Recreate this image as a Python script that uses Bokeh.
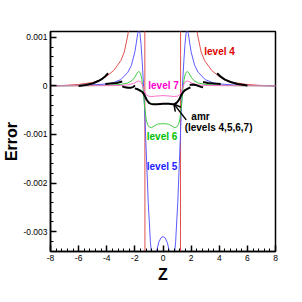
from bokeh.plotting import figure
from bokeh.models import FixedTicker, Label, Arrow, OpenHead, Range1d
from bokeh.embed import file_html
from bokeh.resources import INLINE

# ---------------- data ----------------
z4 = [-8, -7, -6, -5, -4.5, -4, -3.5, -3, -2.75, -2.5, -2.3, -1.3, -1.28,
      1.24, 1.26, 2.26, 2.46, 2.71, 2.96, 3.46, 3.96, 4.46, 4.96, 5.96, 6.96, 8]
e4 = [0.0, 0.00001, 0.00003, 0.00007, 0.00012, 0.0002, 0.00032, 0.00052, 0.0007, 0.00105, 0.0015, 0.006, -0.006,
      -0.006, 0.006, 0.0015, 0.00105, 0.0007, 0.00052, 0.00032, 0.0002, 0.00012, 0.00007, 0.00003, 0.00001, 0.0]

z5 = [-8, -6, -5, -4, -3.5, -3, -2.5, -2.25, -2, -1.9, -1.8, -1.72, -1.64, -1.56, -1.48, -1.4, -1.32, -1.2,
      -1.05, -0.9, -0.75, -0.6, -0.45, -0.3, -0.15, 0, 0.15, 0.3, 0.45, 0.6, 0.75, 0.9, 1.05, 1.2, 1.32, 1.4,
      1.48, 1.56, 1.64, 1.72, 1.8, 1.9, 2, 2.25, 2.5, 3, 3.5, 4, 5, 6, 8]
e5 = [0.0, 0.00001, 0.00002, 0.00004, 0.00007, 0.00013, 0.00028, 0.00042, 0.0007, 0.00088, 0.00108, 0.00116,
      0.00108, 0.00085, 0.0005, 0.0001, -0.0004, -0.0013, -0.0024, -0.0032, -0.0037, -0.0037, -0.0034, -0.00322,
      -0.00313, -0.0031, -0.00313, -0.00322, -0.0034, -0.0037, -0.0037, -0.0032, -0.0024, -0.0013, -0.0004, 0.0001,
      0.0005, 0.00085, 0.00108, 0.00116, 0.00108, 0.00088, 0.0007, 0.00042, 0.00028, 0.00013, 0.00007, 0.00004,
      0.00002, 0.00001, 0.0]

z6 = [-8, -5, -4, -3, -2.5, -2.2, -2, -1.85, -1.72, -1.6, -1.5, -1.4, -1.3, -1.2, -1.1, -0.95, -0.8, -0.6, -0.4,
      -0.2, 0, 0.2, 0.4, 0.6, 0.8, 0.95, 1.1, 1.2, 1.3, 1.4, 1.5, 1.6, 1.72, 1.85, 2, 2.2, 2.5, 3, 4, 5, 8]
e6 = [0.0, 0.000005, 0.00001, 0.00003, 0.00006, 0.00011, 0.00018, 0.00026, 0.0003, 0.00026, 0.00013, -0.00012,
      -0.00045, -0.00068, -0.0008, -0.00085, -0.00086, -0.00082, -0.00079, -0.00078, -0.00078, -0.00078, -0.00079,
      -0.00082, -0.00086, -0.00085, -0.0008, -0.00068, -0.00045, -0.00012, 0.00013, 0.00026, 0.0003, 0.00026,
      0.00018, 0.00011, 0.00006, 0.00003, 0.00001, 0.000005, 0.0]

z7 = [-8, -4, -3, -2.5, -2.1, -1.9, -1.75, -1.6, -1.5, -1.4, -1.3, -1.2, -1.05, -0.8, -0.5, 0,
      0.5, 0.8, 1.05, 1.2, 1.3, 1.4, 1.5, 1.6, 1.75, 1.9, 2.1, 2.5, 3, 4, 8]
e7 = [0.0, 0.000005, 0.00001, 0.00002, 0.00005, 0.00008, 0.0001, 0.00009, 0.00004, -0.00004, -0.00012, -0.00018,
      -0.00021, -0.00022, -0.00021, -0.0002, -0.00021, -0.00022, -0.00021, -0.00018, -0.00012, -0.00004, 0.00004,
      0.00009, 0.0001, 0.00008, 0.00005, 0.00002, 0.00001, 0.000005, 0.0]

amr_z = [
    [-6.0, -5.5, -5.0, -4.6, -4.3, -4.1, -3.9],
    [-4.1, -3.7, -3.3, -2.9],
    [-2.9, -2.7, -2.5, -2.3, -2.1, -2.0],
    [-2.0, -1.8, -1.6, -1.45, -1.3, -1.15, -1.0, -0.85, -0.7, -0.4, 0, 0.4, 0.7, 0.85, 1.0, 1.15, 1.3, 1.45,
     1.6, 1.8, 1.95],
    [1.9, 2.1, 2.3, 2.5, 2.7, 2.85],
    [2.85, 3.2, 3.6, 4.1],
    [3.85, 4.1, 4.4, 4.8, 5.3, 6.0],
]
amr_e = [
    [0.0, 0.00002, 0.00005, 0.0001, 0.00015, 0.0002, 0.00026],
    [0.00004, 0.00005, 0.00006, 0.00009],
    [-0.00001, -0.00003, -0.00004, -0.00004, -0.00002, 0.00001],
    [-0.00005, -0.00007, -0.0001, -0.00013, -0.0002, -0.00029, -0.00035, -0.00037, -0.00038, -0.00038, -0.00037,
     -0.00037, -0.00038, -0.00037, -0.00034, -0.00028, -0.00019, -0.00012, -0.00008, -0.00005, -0.00003],
    [0.00002, 0.00003, 0.00002, 0.0, -0.00002, -0.00003],
    [0.00008, 0.00006, 0.00005, 0.00004],
    [0.00026, 0.00019, 0.00013, 0.00008, 0.00004, 0.00001],
]

x_ticks = [-8, -6, -4, -2, 0, 2, 4, 6, 8]
x_tick_labels = ["-8", "-6", "-4", "-2", "0", "2", "4", "6", "8"]
y_ticks = [-0.003, -0.002, -0.001, 0, 0.001]
y_tick_labels = ["-0.003", "-0.002", "-0.001", "0", "0.001"]

# ---------------- figure ----------------
FONT = "Liberation Sans"
p = figure(width=302, height=302, x_range=Range1d(-8, 8), y_range=Range1d(-0.00341, 0.00112),
           output_backend="svg", toolbar_location=None,
           min_border_left=50, min_border_right=27, min_border_top=31, min_border_bottom=51)
p.xgrid.visible = False
p.ygrid.visible = False
p.outline_line_color = "black"
p.outline_line_width = 1.5
p.background_fill_color = "white"
p.border_fill_color = "white"

p.line(z4, e4, color="#e05050", line_width=1)
p.line(z5, e5, color="#5a5aff", line_width=1)
p.line(z6, e6, color="#40cc40", line_width=1)
p.line(z7, e7, color="#ff70c8", line_width=1)
p.multi_line(xs=amr_z, ys=amr_e, color="black", line_width=2)

x_minor = [-8 + 0.4 * i for i in range(41)]
y_minor = [-0.0034 + 0.0002 * i for i in range(23)]
p.xaxis.ticker = FixedTicker(ticks=x_ticks, minor_ticks=x_minor)
p.yaxis.ticker = FixedTicker(ticks=y_ticks, minor_ticks=y_minor)
p.xaxis.major_label_overrides = dict(zip(x_ticks, x_tick_labels))
p.yaxis.major_label_overrides = dict(zip(y_ticks, y_tick_labels))

for ax in (p.xaxis[0], p.yaxis[0]):
    ax.major_tick_in = 6
    ax.major_tick_out = 0
    ax.minor_tick_in = 3
    ax.minor_tick_out = 0
    ax.major_tick_line_width = 1.5
    ax.major_tick_line_color = "black"
    ax.minor_tick_line_color = "black"
    ax.axis_line_color = "black"
    ax.axis_line_width = 1.5
    ax.major_label_text_font = FONT
    ax.major_label_text_font_size = "8.5px"
    ax.major_label_text_color = "black"
    ax.major_label_standoff = 3
    ax.axis_label_text_font = FONT
    ax.axis_label_text_font_style = "bold"
    ax.axis_label_text_font_size = "16px"
    ax.axis_label_text_color = "black"
    ax.axis_label_standoff = 0

p.yaxis.major_label_standoff = 3
p.yaxis.axis_label_standoff = 0
p.xaxis.axis_label_standoff = 2
p.xaxis.axis_label = "Z"
p.yaxis.axis_label = "Error"

def lab(x, y, text, color):
    p.add_layout(Label(x=x, y=y, text=text, text_align="center", text_baseline="middle",
                       text_font=FONT, text_font_style="bold", text_font_size="10px", text_color=color))

lab(4.02, 0.00071, "level 4", "#dd0000")
lab(0.04, 0.0, "level 7", "#ff00cc")
lab(-0.07, -0.00105, "level 6", "#00c000")
lab(-0.07, -0.00165, "level 5", "#2222ff")
lab(2.67, -0.00064, "amr", "black")
lab(3.95, -0.00085, "(levels 4,5,6,7)", "black")

p.add_layout(Arrow(end=OpenHead(size=7, line_width=1.5, line_color="black"),
                   x_start=1.65, y_start=-0.0007, x_end=0.77, y_end=-0.00037,
                   line_width=1.5, line_color="black"))

open("out.html", "w").write(file_html(p, INLINE))
